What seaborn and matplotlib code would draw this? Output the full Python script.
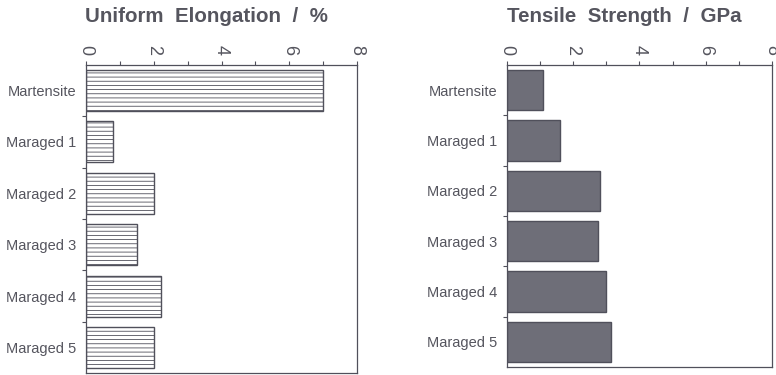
import matplotlib
matplotlib.use("Agg")
import matplotlib.pyplot as plt
import seaborn as sns
import pandas as pd

# Sample conditions and measured properties
conditions = ["Martensite", "Maraged 1", "Maraged 2", "Maraged 3", "Maraged 4", "Maraged 5"]
uniform_elongation = [7.0, 0.8, 2.0, 1.5, 2.2, 2.0]      # %
tensile_strength = [1.1, 1.6, 2.8, 2.75, 3.0, 3.15]       # GPa
x_ticks = [0, 2, 4, 6, 8]

df = pd.DataFrame({
    "condition": conditions,
    "elongation": uniform_elongation,
    "strength": tensile_strength,
})

sns.set_theme(style="white")
plt.rcParams["font.family"] = ["Liberation Sans", "DejaVu Sans"]
plt.rcParams["hatch.linewidth"] = 0.6
plt.rcParams["hatch.color"] = "#5e5e6a"

text_col = "#55555e"
edge_col = "#50505b"

fig = plt.figure(figsize=(7.76, 3.75), dpi=100)
ax1 = fig.add_axes([0.111, 0.005, 0.349, 0.822])
ax2 = fig.add_axes([0.653, 0.021, 0.342, 0.806])

sns.barplot(data=df, y="condition", x="elongation", orient="h", ax=ax1,
            color="white", edgecolor=edge_col, linewidth=1.0, width=0.8,
            saturation=1)
for p in ax1.patches:
    p.set_hatch("----")

sns.barplot(data=df, y="condition", x="strength", orient="h", ax=ax2,
            color="#6e6e78", edgecolor=edge_col, linewidth=1.0, width=0.8,
            saturation=1)

for ax, title, tx in [(ax1, "Uniform  Elongation  /  %", 0.266),
                      (ax2, "Tensile  Strength  /  GPa", 0.804)]:
    ax.set_xlim(0, 8)
    ax.set_ylim(len(conditions) - 0.5, -0.5)
    ax.set_xticks(x_ticks)
    ax.set_xticks([1, 3, 5, 7], minor=True)
    ax.xaxis.tick_top()
    ax.tick_params(axis="x", which="both", top=True, bottom=False,
                   direction="out", length=3, width=0.8, color=edge_col,
                   labelsize=13, labelcolor=text_col, pad=4)
    for lbl in ax.get_xticklabels():
        lbl.set_rotation(-90)
    ax.set_yticks(range(len(conditions)))
    ax.set_yticklabels(conditions)
    ax.set_yticks([i + 0.5 for i in range(len(conditions) - 1)], minor=True)
    ax.tick_params(axis="y", which="major", left=False, length=0,
                   labelsize=10.5, labelcolor=text_col, pad=7)
    ax.tick_params(axis="y", which="minor", left=True, direction="out",
                   length=3, width=0.8, color=edge_col)
    ax.set_xlabel("")
    ax.set_ylabel("")
    for s in ax.spines.values():
        s.set_visible(True)
        s.set_color(edge_col)
        s.set_linewidth(0.9)
    fig.text(tx, 0.955, title, ha="center", va="center", fontsize=14.8,
             fontweight="bold", color=text_col)

fig.savefig("out.png", dpi=100, facecolor="white")
